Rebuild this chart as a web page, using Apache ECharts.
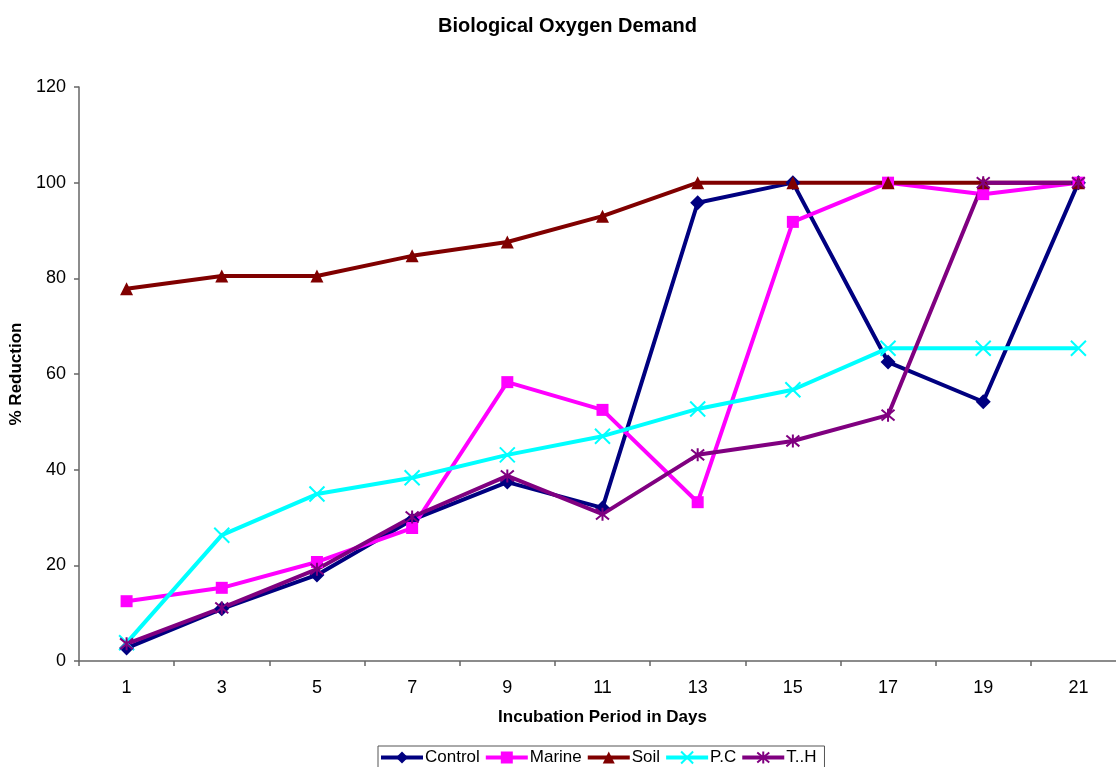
<!DOCTYPE html>
<html><head><meta charset="utf-8">
<script src="https://cdn.jsdelivr.net/npm/echarts@6/dist/echarts.min.js"></script>
<style>html,body{margin:0;padding:0;background:#fff}#c{width:1116px;height:767px}</style>
</head><body><div id="c"></div>
<script>
const days = ['1','3','5','7','9','11','13','15','17','19','21'];
const control = [2.7,10.9,18,29.5,37.4,32,95.8,100,62.5,54.2,100];
const marine = [12.5,15.3,20.7,27.8,58.3,52.5,33.2,91.8,100,97.6,100];
const soil = [77.8,80.5,80.5,84.7,87.6,93,100,100,100,100,100];
const pc = [3.8,26.3,34.9,38.3,43.1,47,52.7,56.7,65.4,65.4,65.4];
const th = [3.6,11.1,19.2,30.1,38.7,30.7,43.1,46,51.4,100,100];
const yTicks = [0,20,40,60,80,100,120];

const font = 'Liberation Sans, Arial, sans-serif';
const xPath = 'path://M0,0 L10,10 M10,0 L0,10';
const starPath = 'path://M0,0 L10,10 M10,0 L0,10 M5,-1 L5,11';
function mk(name, data, color, symbol, size, stroke){
  return {name, type:'line', data, symbol, symbolSize:size, showAllSymbol:true,
    lineStyle:{color, width:4}, itemStyle:{color, borderColor:color, borderWidth: stroke||0},
    emphasis:{disabled:true}};
}
const chart = echarts.init(document.getElementById('c'));
chart.setOption({
  animation:false,
  backgroundColor:'#fff',
  title:{text:'Biological Oxygen Demand', left:433, top:11,
    textStyle:{fontFamily:font, fontSize:20, fontWeight:'bold', color:'#000'}},
  grid:{left:79, top:87, width:1047, height:574, containLabel:false, outerBoundsMode:'none'},
  legend:{top:746, left:378, itemWidth:42, itemHeight:15, itemGap:4,
    borderColor:'#555', borderWidth:1, padding:[3,8,8,1],
    lineStyle:{width:4},
    textStyle:{fontFamily:font, fontSize:17, color:'#000', padding:[0,0,0,-3]},
    data:['Control','Marine','Soil','P.C','T..H']},
  xAxis:{type:'category', data:days, boundaryGap:true,
    name:'Incubation Period in Days', nameLocation:'middle', nameGap:48,
    nameTextStyle:{fontFamily:font, fontSize:17, fontWeight:'bold', color:'#000'},
    axisLine:{lineStyle:{color:'#666', width:1.5}},
    axisTick:{show:true, length:5, lineStyle:{color:'#666', width:1.5}},
    axisLabel:{fontFamily:font, fontSize:18, color:'#000', margin:18},
    splitLine:{show:false}},
  yAxis:{type:'value', min:yTicks[0], max:yTicks[yTicks.length-1], interval:20,
    name:'% Reduction', nameLocation:'middle', nameGap:52, nameRotate:90,
    nameTextStyle:{fontFamily:font, fontSize:17, fontWeight:'bold', color:'#000'},
    axisLine:{show:true, lineStyle:{color:'#666', width:1.5}},
    axisTick:{show:true, length:5, lineStyle:{color:'#666', width:1.5}},
    axisLabel:{fontFamily:font, fontSize:18, color:'#000', margin:13},
    splitLine:{show:false}},
  series:[
    mk('Control', control, '#000080', 'diamond', 15),
    mk('Marine', marine, '#FF00FF', 'rect', 12),
    mk('Soil', soil, '#800000', 'triangle', 13),
    mk('P.C', pc, '#00FFFF', xPath, 15, 2),
    mk('T..H', th, '#800080', starPath, 13, 2)
  ]
});
</script></body></html>
